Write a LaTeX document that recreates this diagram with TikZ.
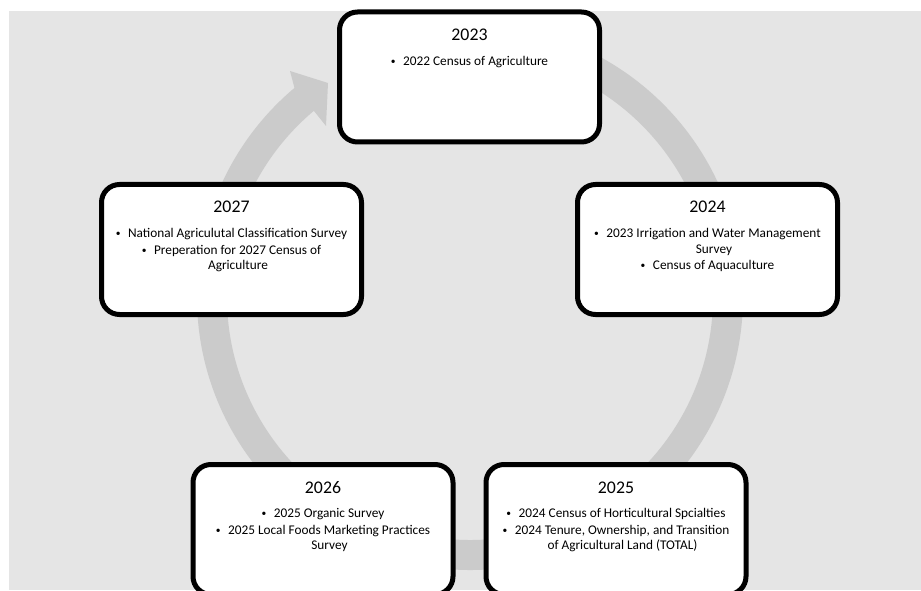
\documentclass[tikz,border=0pt]{standalone}
\usepackage{fontspec}
\setmainfont{Carlito}
\usetikzlibrary{positioning}
\definecolor{backgrey}{HTML}{E5E5E5}
\definecolor{ringgrey}{HTML}{CBCBCB}
\newcommand{\itm}{{\fontsize{9.5}{9.5}\selectfont\raisebox{1pt}{\textbullet}}\hspace{7.5pt}}
\newcommand{\cont}{\hspace*{13pt}}

\begin{document}
\begin{tikzpicture}[x=1pt,y=1pt,
	yearbox/.style={draw=black, line width=5pt, fill=white, rounded corners=18pt, minimum width=260pt, minimum height=130pt, inner sep=0pt},
	yeartitle/.style={anchor=base, inner sep=0pt, font=\fontsize{17.8}{20}\selectfont},
	yearitems/.style={anchor=north, inner sep=0pt, align=center, font=\fontsize{13.3}{15.5}\selectfont}]
	\useasboundingbox (0,0) rectangle (921,590);
	\clip (0,0) rectangle (921,590);
	\fill[backgrey] (9,0) rectangle (921,579);

	% cycle arrow
	\coordinate (hub) at (470,293);
	\draw[ringgrey, line width=30pt] ([shift={(85:258)}]hub) arc[start angle=85, end angle=-230.5, radius=258];
	\fill[ringgrey] (294.5,502) -- (290,519) -- (328,507) -- (326,464) -- (314,479) -- cycle;

	% boxes
	\node[yearbox] (b23) at (469.5,513) {};
	\node[yearbox] (b27) at (231.5,340.5) {};
	\node[yearbox] (b24) at (707.5,340.5) {};
	\node[yearbox] (b26) at (323,60.5) {};
	\node[yearbox] (b25) at (616,60.5) {};

	\node[yeartitle] (t23) at ([yshift=-31pt]b23.north) {2023};
	\node[yearitems] (l23) at ([yshift=-46.5pt]b23.north) {\itm 2022 Census of Agriculture};

	\node[yeartitle] (t24) at ([yshift=-31pt]b24.north) {2024};
	\node[yearitems] (l24) at ([yshift=-46.5pt]b24.north) {\itm 2023 Irrigation and Water Management\\ \cont Survey\\[1pt] \itm Census of Aquaculture};

	\node[yeartitle] (t25) at ([yshift=-31pt]b25.north) {2025};
	\node[yearitems] (l25) at ([yshift=-46.5pt]b25.north) {\itm 2024 Census of Horticultural Spcialties\\[1pt] \itm 2024 Tenure, Ownership, and Transition\\ \cont of Agricultural Land (TOTAL)};

	\node[yeartitle] (t26) at ([yshift=-31pt]b26.north) {2026};
	\node[yearitems] (l26) at ([yshift=-46.5pt]b26.north) {\itm 2025 Organic Survey\\[1pt] \itm 2025 Local Foods Marketing Practices\\ \cont Survey};

	\node[yeartitle] (t27) at ([yshift=-31pt]b27.north) {2027};
	\node[yearitems] (l27) at ([yshift=-46.5pt]b27.north) {\itm National Agriculutal Classification Survey\\[1pt] \itm Preperation for 2027 Census of\\ \cont Agriculture};
\end{tikzpicture}
\end{document}
